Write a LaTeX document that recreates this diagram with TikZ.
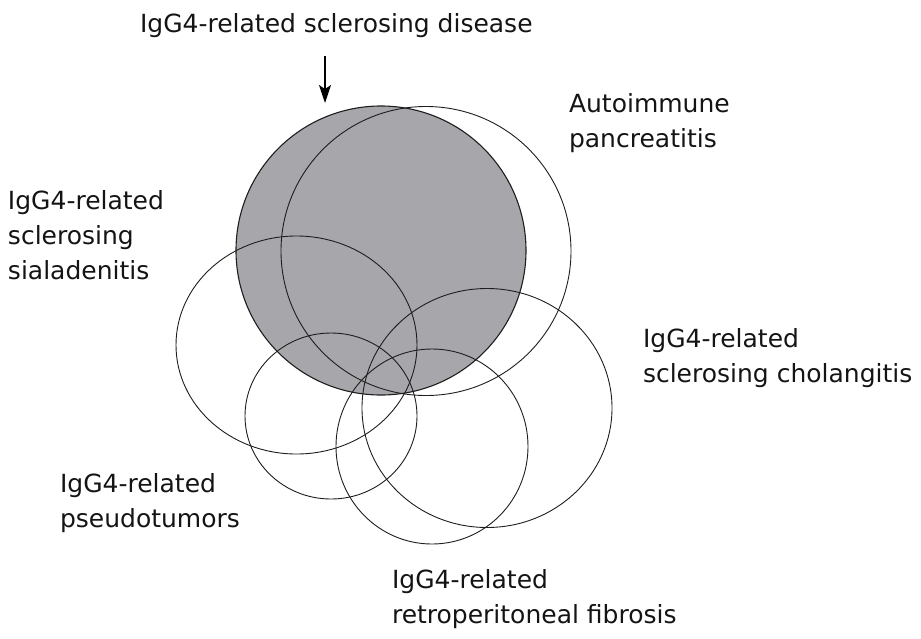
\documentclass[tikz,border=0pt]{standalone}
\usepackage{fontspec}
\setmainfont{DejaVu Sans}
\usetikzlibrary{shapes.geometric,arrows.meta}
\definecolor{diskgray}{RGB}{167,167,171}
\definecolor{linecol}{RGB}{30,30,30}
\begin{document}
\begin{tikzpicture}[x=1pt,y=-1pt,
  set/.style={ellipse,draw=linecol,line width=0.9pt,inner sep=0pt,outer sep=0pt},
  lbl/.style={anchor=base west,align=left,inner sep=0pt,outer sep=0pt,
    font=\fontsize{25}{35}\selectfont,text=black!92}]
\useasboundingbox (0,0) rectangle (921,638);
% filled IgG4-related sclerosing disease
\node[set,fill=diskgray,line width=1.1pt,minimum width=290pt,minimum height=289pt] (ssd) at (381,250.5) {};
\node[set,minimum width=290pt,minimum height=289pt] (aip) at (426,251) {};
\node[set,minimum width=241pt,minimum height=218pt] (sia) at (296.5,345) {};
\node[set,minimum width=250pt,minimum height=239pt] (cho) at (487,408) {};
\node[set,minimum width=172pt,minimum height=166pt] (pse) at (331,416) {};
\node[set,minimum width=192pt,minimum height=195pt] (ret) at (432,446.5) {};
% labels (base anchor = baseline of last line)
\node[lbl] (tssd) at (140,32) {IgG4-related sclerosing disease};
\node[lbl] (taip) at (569,147) {Autoimmune\\pancreatitis};
\node[lbl] (tsia) at (8,279) {IgG4-related\\sclerosing\\sialadenitis};
\node[lbl] (tcho) at (643,382) {IgG4-related\\sclerosing cholangitis};
\node[lbl] (tpse) at (60,527) {IgG4-related\\pseudotumors};
\node[lbl] (tret) at (392,623) {IgG4-related\\retroperitoneal fibrosis};
% arrow
\coordinate (arrA) at (325,56);
\coordinate (arrB) at (325,103);
\draw[line width=1.8pt,-{Stealth[length=18pt,width=12pt,inset=4pt]}] (arrA) -- (arrB);
\end{tikzpicture}
\end{document}
